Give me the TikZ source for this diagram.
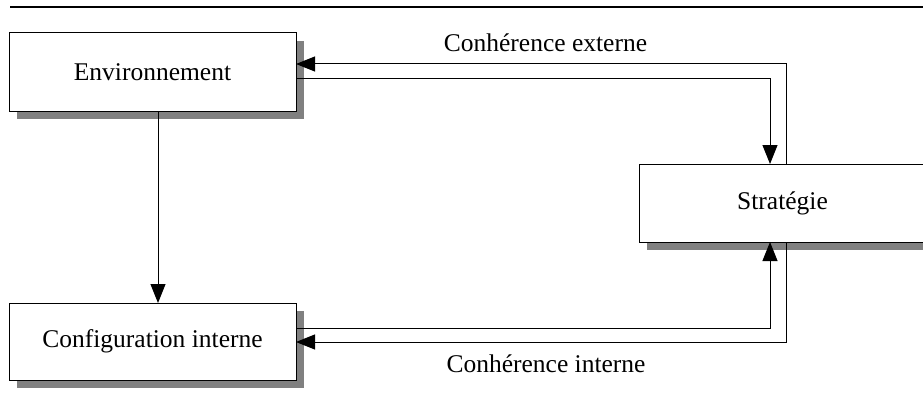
\documentclass[tikz,border=0pt]{standalone}
\usepackage{fontspec}
\setmainfont{Liberation Serif}
\usetikzlibrary{arrows.meta,shadows}
\begin{document}
\begin{tikzpicture}[x=1pt,y=-1pt,
  box/.style={draw=black,line width=1pt,fill=white,rectangle,inner sep=0pt,outer sep=0pt,
    minimum width=287pt,minimum height=78pt,
    drop shadow={shadow xshift=8pt,shadow yshift=-8pt,fill=black!50,opacity=1}},
  lbl/.style={inner sep=0pt,anchor=base},
  arr/.style={line width=1pt,-{Triangle[length=19pt,width=15pt]}},
  font=\fontsize{25.5}{30}\selectfont]
\useasboundingbox (0,0) rectangle (923,396);
\draw[line width=1.5pt] (10,7) -- (923,7);
\node[box] (env) at (152.5,72) {Environnement};
\node[box,minimum height=77pt] (conf) at (152.5,341.5) {Configuration interne};
\node[box] (strat) at (782.5,203) {Stratégie};
\node[lbl] (lext) at (545.5,52) {Conhérence externe};
\node[lbl] (lint) at (546,372) {Conhérence interne};
\coordinate (eo) at (786,64);
\coordinate (ei) at (770,78);
\coordinate (ci) at (770,328);
\coordinate (co) at (786,342);
\coordinate (v) at (158,0);
\draw[arr] (strat.north -| eo) -- (eo) -- (eo -| env.east);
\draw[arr] (ei -| env.east) -- (ei) -- (ei |- strat.north);
\draw[arr] (ci -| conf.east) -- (ci) -- (ci |- strat.south);
\draw[arr] (strat.south -| co) -- (co) -- (co -| conf.east);
\draw[arr] (env.south -| v) -- (conf.north -| v);
\end{tikzpicture}
\end{document}
